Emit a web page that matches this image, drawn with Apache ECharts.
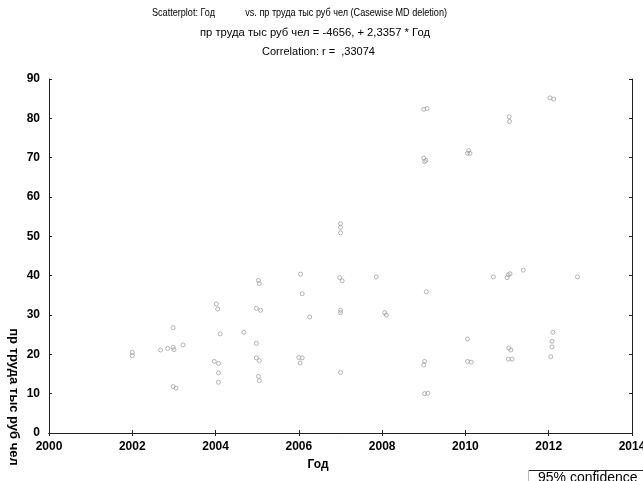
<!DOCTYPE html>
<html>
<head>
<meta charset="utf-8">
<script src="https://cdn.jsdelivr.net/npm/echarts@6/dist/echarts.min.js"></script>
<style>html,body{margin:0;padding:0;background:#fff}#c{width:643px;height:481px}</style>
</head>
<body>
<div id="c"></div>
<script>
// Data
const years = [2002.0,2002.0,2002.68,2002.85,2002.98,2002.98,2003.0,2003.22,2002.98,2003.05,
 2004.02,2004.05,2004.11,2003.97,2004.07,2004.07,2004.07,2004.68,2005.03,2005.05,
 2004.98,2005.08,2004.98,2004.98,2005.05,2005.03,2005.05,2006.04,2006.08,2006.26,
 2006.0,2006.08,2006.03,2006.98,2007.04,2007.0,2007.0,2007.0,2007.0,2007.0,
 2007.0,2007.86,2008.06,2008.1,2009.06,2009.02,2009.0,2009.02,2009.1,2009.0,
 2009.08,2009.0,2009.05,2009.02,2012.03,2012.12,2011.05,2011.06,2010.05,2010.11,
 2010.08,2010.67,2011.03,2011.07,2011.0,2011.39,2012.69,2010.05,2010.05,2010.14,
 2011.04,2011.09,2011.03,2011.12,2012.1,2012.08,2012.08,2012.05];
const productivity = [20.5,19.7,21.1,21.5,26.8,21.8,21.2,22.4,11.8,11.4,
 32.8,31.5,25.2,18.2,17.7,15.3,12.9,25.6,38.8,38.0,
 31.7,31.2,22.8,19.1,18.4,14.4,13.3,40.4,35.4,29.5,
 19.2,19.1,17.8,39.5,38.7,31.2,30.6,15.4,53.2,52.3,
 50.9,39.7,30.6,30.0,35.9,18.2,17.3,10.0,10.1,82.3,
 82.5,69.9,69.3,69.0,85.2,84.9,80.4,79.2,71.1,71.1,
 71.8,39.7,40.2,40.5,39.5,41.4,39.7,23.9,18.2,18.0,
 21.6,21.1,18.8,18.8,25.6,23.3,21.9,19.4];
const titleLines = [
  'Scatterplot: Год            vs. пр труда тыс руб чел (Casewise MD deletion)',
  'пр труда тыс руб чел = -4656, + 2,3357 * Год',
  'Correlation: r =  ,33074'
];
const xName = 'Год';
const yName = 'пр труда тыс руб чел';
const legendText = '95% confidence';

const pts = years.map((x, i) => [x, productivity[i]]);
const sans = "'Liberation Sans',Arial,sans-serif";

// layout of title lines: [left x, centre y, width]
const titleLayout = [[152, 13, 295], [200, 33, 230], [262, 52, 113]];
const mctx = document.createElement('canvas').getContext('2d');
mctx.font = '11px ' + sans;
const titleGraphics = titleLines.map((t, i) => {
  const [lx, cy, w] = titleLayout[i];
  const natural = mctx.measureText(t).width;
  return {type: 'text', x: lx, y: cy, scaleX: w / natural, scaleY: 1,
    style: {text: t, fill: '#000', font: '11px ' + sans, textVerticalAlign: 'middle'}};
});

const chart = echarts.init(document.getElementById('c'), null, {renderer: 'canvas'});
const axisLine = {show: true, lineStyle: {color: '#222', width: 1}};
const tick = {show: true, inside: true, length: 3, lineStyle: {color: '#222'}};
const lbl = {color: '#000', fontFamily: sans, fontWeight: 'bold', fontSize: 12, formatter: v => String(v)};
chart.setOption({
  animation: false,
  backgroundColor: '#fff',
  grid: {left: 49, right: 11, top: 79, bottom: 48, containLabel: false, outerBoundsMode: 'none'},
  xAxis: [
    {type: 'value', min: 2000, max: 2014, interval: 2, position: 'bottom',
     axisLine, axisTick: tick, splitLine: {show: false},
     axisLabel: Object.assign({margin: 8}, lbl)},
    {type: 'value', min: 2000, max: 2014, interval: 2, position: 'top',
     axisLine, axisTick: tick, splitLine: {show: false}, axisLabel: {show: false}}
  ],
  yAxis: [
    {type: 'value', min: 0, max: 90, interval: 10, position: 'left',
     axisLine, axisTick: tick, splitLine: {show: false},
     axisLabel: Object.assign({margin: 9}, lbl)},
    {type: 'value', min: 0, max: 90, interval: 10, position: 'right',
     axisLine, axisTick: tick, splitLine: {show: false}, axisLabel: {show: false}}
  ],
  series: [{
    type: 'scatter', xAxisIndex: 0, yAxisIndex: 0, data: pts,
    symbol: 'circle', symbolSize: 4, z: 5,
    itemStyle: {color: 'rgba(255,255,255,0)', borderColor: '#a0a0a0', borderWidth: 1}
  }],
  graphic: titleGraphics.concat([
    {type: 'text', x: 318, y: 465, style: {text: xName, fill: '#000', font: 'bold 12px ' + sans, textAlign: 'center', textVerticalAlign: 'middle'}},
    {type: 'text', x: 14, y: 397, rotation: -Math.PI / 2, style: {text: yName, fill: '#000', font: 'bold 13px ' + sans, textAlign: 'center', textVerticalAlign: 'middle'}},
    {type: 'line', shape: {x1: 528, y1: 470.5, x2: 643, y2: 470.5}, style: {stroke: '#222', lineWidth: 1}},
    {type: 'line', shape: {x1: 528.5, y1: 470, x2: 528.5, y2: 481}, style: {stroke: '#bbb', lineWidth: 1}},
    {type: 'text', x: 538, y: 478, style: {text: legendText, fill: '#000', font: '14px ' + sans, textVerticalAlign: 'middle'}}
  ])
});
</script>
</body>
</html>
